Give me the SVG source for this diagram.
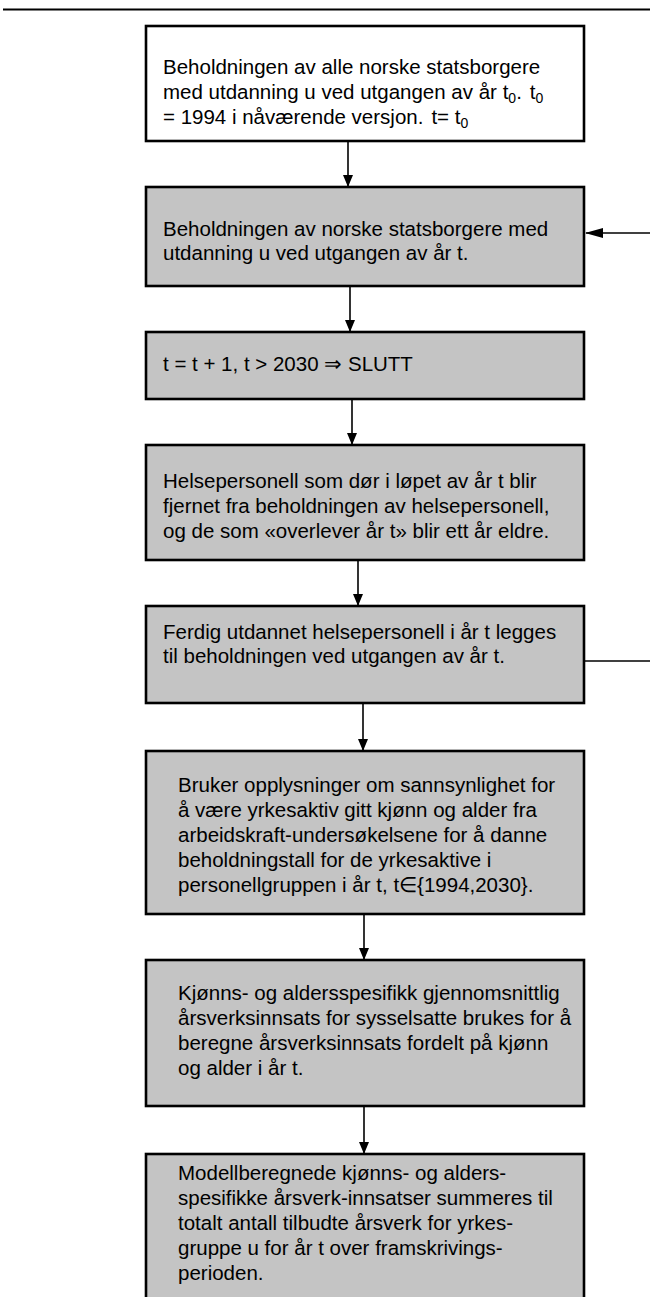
<svg xmlns="http://www.w3.org/2000/svg" width="650" height="1297" viewBox="0 0 650 1297">
<style>
.box{stroke:#000;stroke-width:2.6}
.w{fill:#fff}
.g{fill:#c4c4c4}
text{font-family:"Liberation Sans",Arial,sans-serif;font-size:20.5px;fill:#000}
.sub{font-size:14px}
.c{stroke:#000;stroke-width:1.6;fill:none}
</style>
<defs>
<marker id="ah" markerUnits="userSpaceOnUse" markerWidth="12" markerHeight="16" refX="11" refY="5" orient="auto" viewBox="0 0 12 10">
<path d="M0,0 L12,5 L0,10 Z" fill="#000"/>
</marker>
<marker id="ahl" markerUnits="userSpaceOnUse" markerWidth="18" markerHeight="11" refX="17" refY="5" orient="auto" viewBox="0 0 18 10">
<path d="M0,0 L18,5 L0,10 Z" fill="#000"/>
</marker>
</defs>
<line x1="3" y1="9.5" x2="650" y2="9.5" stroke="#000" stroke-width="2"/>
<g id="connectors">
<line class="c" x1="348" y1="141" x2="348" y2="186" marker-end="url(#ah)"/>
<line class="c" x1="350" y1="287" x2="350" y2="331" marker-end="url(#ah)"/>
<line class="c" x1="352" y1="400" x2="352" y2="444" marker-end="url(#ah)"/>
<line class="c" x1="358" y1="561" x2="358" y2="605" marker-end="url(#ah)"/>
<line class="c" x1="363" y1="704" x2="363" y2="750" marker-end="url(#ah)"/>
<line class="c" x1="364" y1="915" x2="364" y2="959" marker-end="url(#ah)"/>
<line class="c" x1="364" y1="1107" x2="364" y2="1153" marker-end="url(#ah)"/>
<line class="c" x1="650" y1="233" x2="586" y2="233" marker-end="url(#ahl)"/>
<line class="c" x1="585" y1="661" x2="650" y2="661"/>
</g>
<g id="n1">
<rect class="box w" x="146" y="26" width="438" height="115"/>
<text x="163" y="74">Beholdningen av alle norske statsborgere</text>
<text x="163" y="99">med utdanning u ved utgangen av år t<tspan class="sub" dy="4">0</tspan><tspan dy="-4">.</tspan><tspan dx="8">t</tspan><tspan class="sub" dy="4">0</tspan></text>
<text x="163" y="124">= 1994 i nåværende versjon.<tspan dx="8">t= t</tspan><tspan class="sub" dy="4">0</tspan></text>
</g>
<g id="n2">
<rect class="box g" x="146" y="187" width="438" height="99"/>
<text x="163" y="236">Beholdningen av norske statsborgere med</text>
<text x="163" y="260">utdanning u ved utgangen av år t.</text>
</g>
<g id="n3">
<rect class="box g" x="146" y="332" width="438" height="67"/>
<text x="163" y="371">t = t + 1, t &gt; 2030 ⇒ SLUTT</text>
</g>
<g id="n4">
<rect class="box g" x="146" y="445" width="438" height="115"/>
<text x="163" y="488">Helsepersonell som dør i løpet av år t blir</text>
<text x="163" y="513">fjernet fra beholdningen av helsepersonell,</text>
<text x="163" y="538">og de som «overlever år t» blir ett år eldre.</text>
</g>
<g id="n5">
<rect class="box g" x="146" y="606" width="438" height="97"/>
<text x="163" y="639">Ferdig utdannet helsepersonell i år t legges</text>
<text x="163" y="663">til beholdningen ved utgangen av år t.</text>
</g>
<g id="n6">
<rect class="box g" x="146" y="751" width="438" height="163"/>
<text x="178" y="792">Bruker opplysninger om sannsynlighet for</text>
<text x="178" y="817">å være yrkesaktiv gitt kjønn og alder fra</text>
<text x="178" y="842">arbeidskraft-undersøkelsene for å danne</text>
<text x="178" y="867">beholdningstall for de yrkesaktive i</text>
<text x="178" y="892">personellgruppen i år t, t∈{1994,2030}.</text>
</g>
<g id="n7">
<rect class="box g" x="146" y="960" width="438" height="146"/>
<text x="178" y="1000">Kjønns- og aldersspesifikk gjennomsnittlig</text>
<text x="178" y="1025">årsverksinnsats for sysselsatte brukes for å</text>
<text x="178" y="1050">beregne årsverksinnsats fordelt på kjønn</text>
<text x="178" y="1075">og alder i år t.</text>
</g>
<g id="n8">
<rect class="box g" x="146" y="1154" width="438" height="160"/>
<text x="178" y="1180">Modellberegnede kjønns- og alders-</text>
<text x="178" y="1205">spesifikke årsverk-innsatser summeres til</text>
<text x="178" y="1230">totalt antall tilbudte årsverk for yrkes-</text>
<text x="178" y="1255">gruppe u for år t over framskrivings-</text>
<text x="178" y="1280">perioden.</text>
</g>
</svg>
